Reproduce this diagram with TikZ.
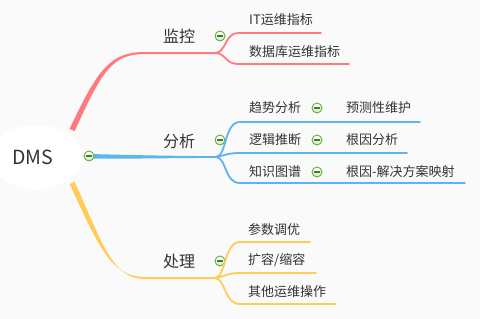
\documentclass[tikz,border=0pt]{standalone}
\usepackage{fontspec}
\usetikzlibrary{shapes.geometric}
\setmainfont{Noto Sans CJK SC}
\definecolor{bg}{HTML}{FAFAFA}
\definecolor{txt}{HTML}{333333}
\definecolor{cred}{HTML}{FF7A7F}
\definecolor{cblue}{HTML}{5DB4EE}
\definecolor{cyel}{HTML}{FFCC5A}
\definecolor{icg}{HTML}{62AE3E}
\definecolor{icf}{HTML}{D2E6C4}
\definecolor{icd}{HTML}{3E7F24}
\begin{document}
\begin{tikzpicture}[x=1pt,y=-1pt,
  lbl/.style={inner sep=0pt, text=txt, font=\fontsize{13}{13}\selectfont, anchor=west},
  lbl1/.style={inner sep=0pt, text=txt, font=\fontsize{16}{16}\selectfont},
  icon/.style={circle, minimum size=10pt, inner sep=0pt, draw=icg, line width=0.9pt,
    top color=white, bottom color=icf,
    path picture={\draw[icd, line width=1.1pt]
      ([xshift=-2.8pt]path picture bounding box.center) --
      ([xshift=2.8pt]path picture bounding box.center);}},
  sub/.style={line width=1.8pt, line cap=round}]
\useasboundingbox (0,0) rectangle (480,319);
\fill[bg] (0,0) rectangle (480,319);

% fork coordinates
\coordinate (fr) at (215,53);
\coordinate (fb) at (216,157);
\coordinate (fy) at (215,278);

% main tapered branches
\fill[cred] (74.6,131.2) .. controls (102,71) and (112,54) .. (145,54) -- (215,54) -- (215,52)
  -- (145,52) .. controls (110,52) and (98,69) .. (69.6,128.8) -- cycle;
\fill[cblue] (89,154) .. controls (130,155) and (170,156) .. (216,156.1)
  -- (216,157.9) .. controls (170,158) and (130,159) .. (89,158.5) -- cycle;
\fill[cyel] (74.6,181.8) .. controls (102,242) and (112,279) .. (145,279) -- (215,279) -- (215,277)
  -- (145,277) .. controls (110,277) and (98,244) .. (69.6,184.2) -- cycle;

% root
\node[ellipse, fill=white, minimum width=92pt, minimum height=64pt, inner sep=0pt] (root) at (36,157) {};
\node[inner sep=0pt, text=txt, font=\fontsize{19.5}{19.5}\selectfont] (dms) at (33,157) {DMS};
\node[icon] (i0) at (89,156) {};

% level 1 labels
\node[lbl1] (mon) at (179,36) {监控};
\node[lbl1] (ana) at (179,141) {分析};
\node[lbl1] (pro) at (179,261) {处理};
\node[icon] (i1) at (220,36) {};
\node[icon] (i2) at (220,140) {};
\node[icon] (i3) at (220,261) {};

% level 2 labels
\node[lbl] (a1) at (249,20) {IT运维指标};
\node[lbl] (a2) at (249,52) {数据库运维指标};
\node[lbl] (b1) at (249,108) {趋势分析};
\node[lbl] (b2) at (249,140) {逻辑推断};
\node[lbl] (b3) at (249,172) {知识图谱};
\node[lbl] (c1) at (248,230) {参数调优};
\node[lbl] (c2) at (248,260) {扩容/缩容};
\node[lbl] (c3) at (248,292) {其他运维操作};

% level 3
\node[icon] (j1) at (317,108) {};
\node[icon] (j2) at (317,140) {};
\node[icon] (j3) at (317,172) {};
\node[lbl] (d1) at (346,108) {预测性维护};
\node[lbl] (d2) at (346,140) {根因分析};
\node[lbl] (d3) at (346,172) {根因-解决方案映射};

% red sub-branches
\draw[sub, cred] (fr) .. controls (226,53) and (225,33) .. (238,33) -- (321,33);
\draw[sub, cred] (fr) .. controls (226,53) and (225,64) .. (238,64) -- (349,64);
% blue sub-branches
\draw[sub, cblue] (fb) .. controls (227,156) and (224,122) .. (240,122) -- (420,122);
\draw[sub, cblue] (fb) .. controls (226,155) and (228,153) .. (240,153) -- (407,153);
\draw[sub, cblue] (fb) .. controls (227,158) and (224,183) .. (240,183) -- (465,183);
% yellow sub-branches
\draw[sub, cyel] (fy) .. controls (226,277) and (224,242) .. (240,242) -- (310,242);
\draw[sub, cyel] (fy) .. controls (226,276) and (228,273) .. (240,273) -- (316,273);
\draw[sub, cyel] (fy) .. controls (226,279) and (224,304) .. (240,304) -- (336,304);
\end{tikzpicture}
\end{document}
